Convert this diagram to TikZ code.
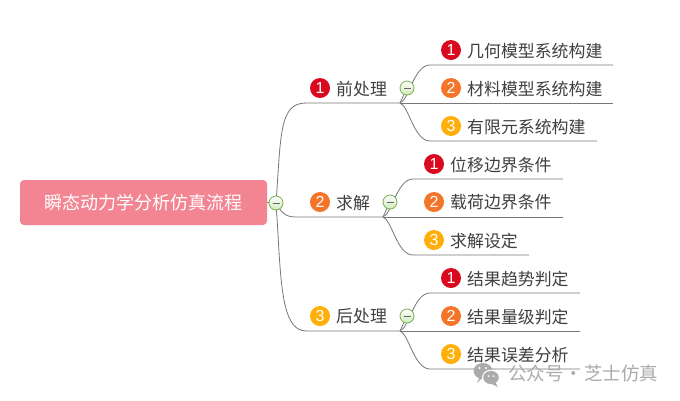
\documentclass[tikz,border=0pt]{standalone}
\usepackage{fontspec}
\setmainfont{Noto Sans CJK SC}
\newfontfamily\digitfont{Liberation Sans}
\usetikzlibrary{backgrounds}
\definecolor{rootpink}{HTML}{F28591}
\definecolor{txtgray}{HTML}{404040}
\definecolor{linegray}{HTML}{777777}
\definecolor{bred}{HTML}{D9091F}
\definecolor{borange}{HTML}{F4752A}
\definecolor{byellow}{HTML}{FFAE0A}
\definecolor{wmgray}{HTML}{ABABAB}
\definecolor{togglegreen}{HTML}{78AE50}
\definecolor{togglefill}{HTML}{CFEBB8}
\tikzset{
  x=1pt,y=-1pt,
  rootbox/.style={draw=none,fill=rootpink,rounded corners=4pt,minimum width=247pt,minimum height=45pt,inner sep=0pt,text=white,font=\fontsize{18}{22}\selectfont},
  badge/.style={circle,minimum size=20pt,inner sep=0pt,text=white,font=\digitfont\fontsize{16}{16}\selectfont},
  red/.style={badge,fill=bred},
  org/.style={badge,fill=borange},
  yel/.style={badge,fill=byellow},
  lab/.style={anchor=west,inner sep=0pt,yshift=-0.6pt,text=txtgray,font=\fontsize{16.9}{20}\selectfont},
  toggle/.style={circle,minimum size=14pt,inner sep=0pt,draw=togglegreen,line width=0.8pt,top color=white,bottom color=togglefill},
  conn/.style={draw=linegray,line width=0.8pt},
  wm/.style={anchor=west,inner sep=0pt,text=wmgray,font=\fontsize{18.5}{20}\selectfont},
}
\newcommand{\togminus}[1]{\draw[txtgray!80,line width=0.8pt] ([xshift=-3.5pt]#1.center) -- ([xshift=3.5pt]#1.center);}
\begin{document}
\begin{tikzpicture}
\useasboundingbox (0,0) rectangle (680,400);
% root
\node[rootbox] (root) at (143.5,202.5) {瞬态动力学分析仿真流程};
% toggles
\node[toggle] (t0) at (276,203) {};
\node[toggle] (t1) at (407,88) {};
\node[toggle] (t2) at (390,202) {};
\node[toggle] (t3) at (407,316) {};
\togminus{t0}\togminus{t1}\togminus{t2}\togminus{t3}
% level 1
\node[red] (b1) at (320,88) {1};
\node[lab] (l1) at (336,88) {前处理};
\node[org] (b2) at (320,202) {2};
\node[lab] (l2) at (336,202) {求解};
\node[yel] (b3) at (320,316) {3};
\node[lab] (l3) at (336,316) {后处理};
% group 1
\node[red] (b11) at (451,50) {1};
\node[lab] (l11) at (467,50) {几何模型系统构建};
\node[org] (b12) at (451,88) {2};
\node[lab] (l12) at (467,88) {材料模型系统构建};
\node[yel] (b13) at (451,126) {3};
\node[lab] (l13) at (467,126) {有限元系统构建};
% group 2
\node[red] (b21) at (434,164) {1};
\node[lab] (l21) at (450,164) {位移边界条件};
\node[org] (b22) at (434,202) {2};
\node[lab] (l22) at (450,202) {载荷边界条件};
\node[yel] (b23) at (434,240) {3};
\node[lab] (l23) at (450,240) {求解设定};
% group 3
\node[red] (b31) at (451,278) {1};
\node[lab] (l31) at (467,278) {结果趋势判定};
\node[org] (b32) at (451,316) {2};
\node[lab] (l32) at (467,316) {结果量级判定};
\node[yel] (b33) at (451,354) {3};
\node[lab] (l33) at (467,354) {结果误差分析};
% junctions and free ends
\coordinate (j0) at (276,203);
\coordinate (j1) at (400,103);
\coordinate (j2) at (383,217);
\coordinate (j3) at (400,331);
\coordinate (e11) at (613,65);
\coordinate (e12) at (613,103);
\coordinate (e13) at (597,141);
\coordinate (e21) at (563,179);
\coordinate (e22) at (563,217);
\coordinate (e23) at (529,255);
\coordinate (e31) at (580,293);
\coordinate (e32) at (580,331);
\coordinate (e33) at (580,369);
\begin{scope}[on background layer]
\fill[white] (0,0) rectangle (680,400);
\draw[conn] (root.east) -- (t0.center);
\draw[conn] (j0) .. controls (281,135) and (279,103) .. (306,103) -- (j1);
\draw[conn] (j0) .. controls (283,216) and (288,217) .. (298,217) -- (j2);
\draw[conn] (j0) .. controls (281,271) and (279,331) .. (306,331) -- (j3);
\draw[conn] (t1.center) -- (j1);
\draw[conn] (t2.center) -- (j2);
\draw[conn] (t3.center) -- (j3);
\draw[conn] (j1) .. controls (409,100) and (414,65) .. (430,65) -- (e11);
\draw[conn] (j1) .. controls (409,106) and (414,141) .. (430,141) -- (e13);
\draw[conn] (j1) -- (e12);
\draw[conn] (j2) .. controls (392,214) and (397,179) .. (413,179) -- (e21);
\draw[conn] (j2) .. controls (392,220) and (397,255) .. (413,255) -- (e23);
\draw[conn] (j2) -- (e22);
\draw[conn] (j3) .. controls (409,328) and (414,293) .. (430,293) -- (e31);
\draw[conn] (j3) .. controls (409,334) and (414,369) .. (430,369) -- (e33);
\draw[conn] (j3) -- (e32);
\end{scope}
% watermark
\fill[wmgray] (483,371) ellipse (9.5 and 8);
\fill[wmgray] (483,377) -- (477,383) -- (480,376) -- cycle;
\fill[white] (491,377.5) ellipse (9 and 7.8);
\fill[wmgray] (491,377.5) ellipse (7.8 and 6.6);
\fill[wmgray] (495,382) -- (498,387) -- (491,383.5) -- cycle;
\fill[white] (479.5,368) circle (1.2) (486,368) circle (1.2) (488.5,376) circle (1) (493.5,376) circle (1);
\node[wm] (wmtext) at (508,373) {公众号\hspace{1pt}·\hspace{1pt}芝士仿真};
\end{tikzpicture}
\end{document}
